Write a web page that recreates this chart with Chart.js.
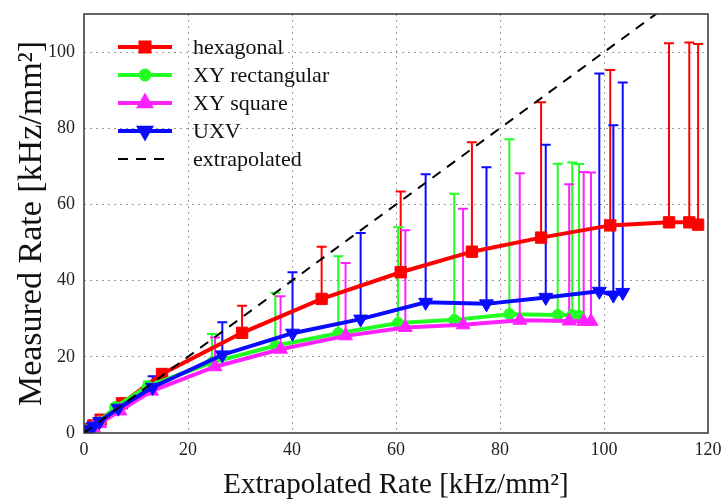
<!DOCTYPE html>
<html>
<head>
<meta charset="utf-8">
<script src="https://cdn.jsdelivr.net/npm/chart.js@4.4.1/dist/chart.umd.min.js"></script>
<style>
  html, body { margin: 0; padding: 0; background: #fff; }
  #wrap { width: 723px; height: 500px; }
</style>
</head>
<body>
<div id="wrap"><canvas id="rateChart"></canvas></div>
<script>
// measured vs extrapolated rate, kHz/mm^2
const hexX   = [0.8, 1.8, 3.2, 7.3, 15.0, 30.4, 45.7, 60.9, 74.6, 87.9, 101.2, 112.5, 116.4, 118.1];
const hexY   = [1.0, 2.0, 3.5, 7.8, 15.5, 26.3, 35.2, 42.2, 47.6, 51.3, 54.5, 55.3, 55.3, 54.7];
const hexTop = [1.5, 2.8, 4.5, 8.5, 16.8, 33.4, 48.9, 63.4, 76.3, 86.8, 95.3, 102.3, 102.5, 102.1];

const rectX   = [0.8, 1.8, 3.0, 6.0, 12.3, 24.6, 36.8, 48.9, 60.4, 71.2, 81.8, 91.1, 93.9, 95.2];
const rectY   = [0.8, 1.7, 3.0, 6.8, 12.3, 18.5, 22.9, 26.2, 28.9, 29.7, 31.2, 31.0, 31.0, 30.8];
const rectTop = [1.2, 2.3, 3.6, 7.5, 13.5, 26.0, 36.8, 46.4, 54.0, 62.8, 77.1, 70.7, 71.0, 70.6];

const sqX   = [0.8, 1.8, 3.0, 6.9, 13.0, 25.2, 37.8, 50.3, 61.8, 72.9, 83.8, 93.3, 96.1, 97.5];
const sqY   = [0.6, 1.4, 2.5, 5.8, 11.0, 17.4, 22.0, 25.5, 27.7, 28.4, 29.6, 29.4, 29.3, 29.3];
const sqTop = [1.0, 2.0, 3.2, 6.5, 12.0, 25.1, 35.9, 44.6, 53.2, 58.9, 68.2, 65.3, 68.5, 68.4];

const uxvX   = [0.8, 1.8, 3.0, 6.6, 13.2, 26.6, 40.1, 53.2, 65.7, 77.4, 88.8, 99.1, 101.8, 103.6];
const uxvY   = [0.9, 1.8, 3.0, 6.5, 12.0, 20.5, 26.2, 29.9, 34.3, 33.9, 35.6, 37.2, 36.2, 36.9];
const uxvTop = [1.4, 2.5, 3.8, 7.5, 14.9, 29.1, 42.2, 52.5, 67.9, 69.8, 75.7, 94.4, 80.8, 92.0];

// y = x reference line
const extrapX = [0, 120];
const extrapY = [0, 120];

const xTicks = [0, 20, 40, 60, 80, 100, 120];
const yTicks = [0, 20, 40, 60, 80, 100];

const serif = "'Liberation Serif', 'Times New Roman', serif";

function pts(xs, ys) {
    return xs.map((v, i) => ({ x: v, y: ys[i] }));
}

// upward error bars with a cap, drawn under the lines
const errorBars = {
    id: 'errorBars',
    beforeDatasetsDraw(chart) {
        const { ctx, chartArea, scales: { x, y } } = chart;
        ctx.save();
        ctx.beginPath();
        ctx.rect(chartArea.left, chartArea.top, chartArea.right - chartArea.left, chartArea.bottom - chartArea.top);
        ctx.clip();
        ctx.lineWidth = 2;
        chart.data.datasets.forEach(ds => {
            if (!ds.errTop) return;
            ctx.strokeStyle = ds.borderColor;
            ds.data.forEach((p, j) => {
                const px = x.getPixelForValue(p.x);
                const py0 = y.getPixelForValue(p.y);
                const py1 = y.getPixelForValue(ds.errTop[j]);
                ctx.beginPath();
                ctx.moveTo(px, py0);
                ctx.lineTo(px, py1);
                ctx.moveTo(px - 5, py1);
                ctx.lineTo(px + 5, py1);
                ctx.stroke();
            });
        });
        ctx.restore();
    }
};

// axes box + legend inside the plot
const frameAndLegend = {
    id: 'frameAndLegend',
    afterDraw(chart) {
        const { ctx, chartArea: a } = chart;
        ctx.save();
        ctx.strokeStyle = '#333';
        ctx.lineWidth = 1.5;
        ctx.setLineDash([]);
        ctx.strokeRect(a.left, a.top, a.right - a.left, a.bottom - a.top);

        let rowY = 47;
        chart.data.datasets.forEach(ds => {
            ctx.strokeStyle = ds.borderColor;
            ctx.fillStyle = ds.backgroundColor;
            ctx.lineWidth = ds.borderWidth;
            ctx.setLineDash(ds.borderDash || []);
            ctx.beginPath();
            ctx.moveTo(118, rowY);
            ctx.lineTo(172, rowY);
            ctx.stroke();
            ctx.setLineDash([]);
            if (ds.pointRadius > 0) {
                Chart.helpers.drawPoint(ctx, {
                    pointStyle: ds.pointStyle,
                    radius: ds.pointRadius * 0.8,
                    rotation: ds.pointRotation || 0,
                    borderWidth: 1
                }, 145, rowY);
            }
            ctx.fillStyle = '#111';
            ctx.font = '22px ' + serif;
            ctx.textBaseline = 'middle';
            ctx.fillText(ds.label, 193, rowY + 1);
            rowY += 28;
        });
        ctx.restore();
    }
};

function series(label, color, xs, ys, tops, style, radius, rot, order) {
    return {
        label: label,
        data: pts(xs, ys),
        errTop: tops,
        borderColor: color,
        backgroundColor: color,
        borderWidth: 4,
        showLine: true,
        pointStyle: style,
        pointRadius: radius,
        pointHoverRadius: radius,
        pointRotation: rot,
        pointBorderWidth: 1,
        order: order
    };
}

new Chart(document.getElementById('rateChart'), {
    type: 'scatter',
    data: {
        datasets: [
            series('hexagonal', '#ff0000', hexX, hexY, hexTop, 'rect', 8, 0, 4),
            series('XY rectangular', '#22ff22', rectX, rectY, rectTop, 'circle', 5.5, 0, 3),
            series('XY square', '#ff22ff', sqX, sqY, sqTop, 'triangle', 8, 0, 2),
            series('UXV', '#0a0aff', uxvX, uxvY, uxvTop, 'triangle', 8, 180, 1),
            {
                label: 'extrapolated',
                data: pts(extrapX, extrapY),
                borderColor: '#000',
                backgroundColor: '#000',
                borderWidth: 2,
                borderDash: [10, 8],
                showLine: true,
                pointRadius: 0,
                order: 0
            }
        ]
    },
    options: {
        responsive: true,
        maintainAspectRatio: false,
        animation: false,
        layout: { padding: { top: 14, right: 15, left: 0, bottom: 0 } },
        plugins: {
            legend: { display: false },
            tooltip: { enabled: false }
        },
        scales: {
            x: {
                type: 'linear',
                min: 0,
                max: 120,
                afterBuildTicks: s => { s.ticks = xTicks.map(v => ({ value: v })); },
                afterFit: s => { s.height = 67; s.paddingLeft = 0; s.paddingRight = 0; },
                ticks: { font: { family: serif, size: 18 }, color: '#222', padding: 6, maxRotation: 0 },
                grid: {
                    drawTicks: false,
                    color: c => (c.tick && (c.tick.value === 0 || c.tick.value === 120)) ? 'rgba(0,0,0,0)' : '#9a9a9a'
                },
                border: { display: false, dash: [2, 4] },
                title: {
                    display: true,
                    text: 'Extrapolated Rate [kHz/mm²]',
                    font: { family: serif, size: 29, lineHeight: 1 },
                    color: '#111',
                    padding: { top: 0, bottom: 0 }
                }
            },
            y: {
                type: 'linear',
                min: 0,
                max: 110,
                afterBuildTicks: s => { s.ticks = yTicks.map(v => ({ value: v })); },
                afterFit: s => { s.width = 84; s.paddingTop = 0; s.paddingBottom = 0; },
                ticks: { font: { family: serif, size: 18 }, color: '#222', padding: 9 },
                grid: {
                    drawTicks: false,
                    color: c => (c.tick && c.tick.value === 0) ? 'rgba(0,0,0,0)' : '#9a9a9a'
                },
                border: { display: false, dash: [2, 4] },
                title: {
                    display: true,
                    text: 'Measured Rate [kHz/mm²]',
                    font: { family: serif, size: 34, lineHeight: 1 },
                    color: '#111',
                    padding: { top: 15, bottom: 0 }
                }
            }
        }
    },
    plugins: [errorBars, frameAndLegend]
});
</script>
</body>
</html>
